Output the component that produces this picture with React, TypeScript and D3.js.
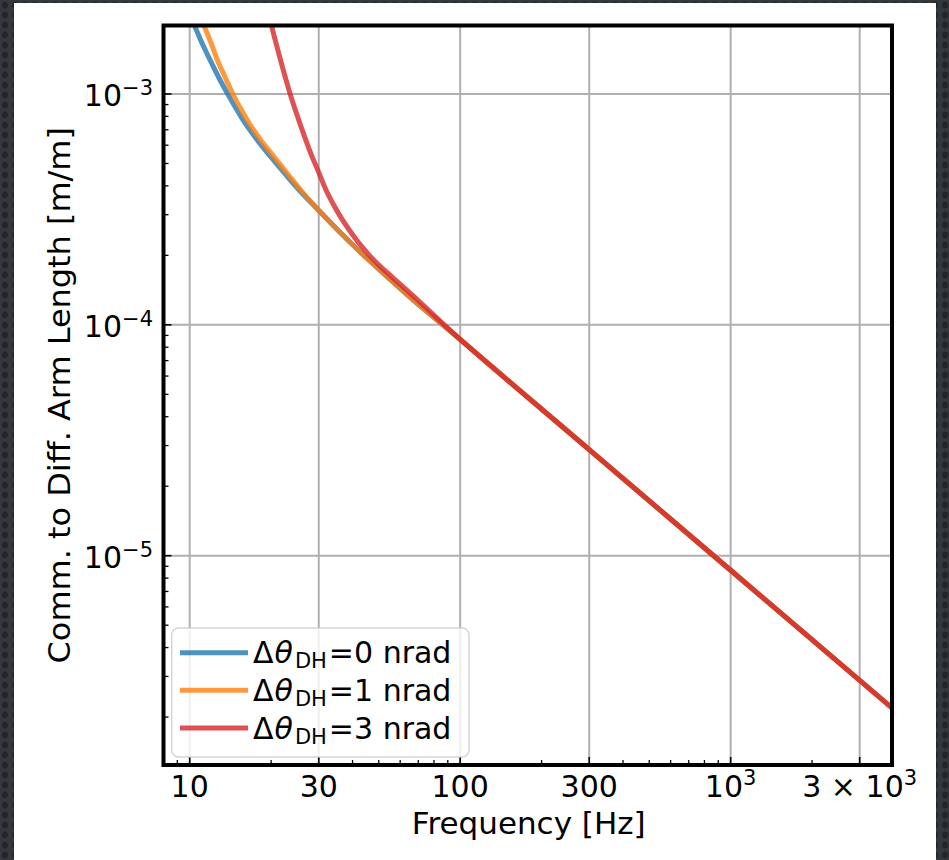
import React from "react";
import * as d3 from "d3";

// ---- data ----
const freqBlue = [10.03, 10.46, 11.1, 11.89, 12.83, 13.89, 14.96, 16.01, 17.88, 20.1, 22.7, 25.57, 30, 35.93, 46.37, 65.2, 100, 300, 1000, 3950];
const valBlue = [2.134e-3, 1.951e-3, 1.663e-3, 1.404e-3, 1.173e-3, 9.9e-4, 8.52e-4, 7.49e-4, 6.26e-4, 5.28e-4, 4.46e-4, 3.8e-4, 3.13e-4, 2.52e-4, 1.89e-4, 1.32e-4, 8.65e-5, 2.88e-5, 8.65e-6, 2.19e-6];

const freqOrange = [10.92, 11.34, 11.99, 12.65, 13.56, 14.5, 15.54, 16.61, 18.42, 20.67, 23.19, 25.9, 30.06, 35.93, 46.37, 65.2, 100, 300, 1000, 3950];
const valOrange = [2.134e-3, 1.951e-3, 1.663e-3, 1.404e-3, 1.173e-3, 9.9e-4, 8.52e-4, 7.45e-4, 6.26e-4, 5.28e-4, 4.46e-4, 3.8e-4, 3.13e-4, 2.52e-4, 1.89e-4, 1.32e-4, 8.65e-5, 2.88e-5, 8.65e-6, 2.19e-6];

const freqRed = [19.72, 20.1, 20.84, 21.66, 22.6, 23.58, 24.93, 26.46, 28.08, 30, 31.91, 34.16, 36.56, 39.14, 42.62, 46.37, 50.96, 56.57, 69.05, 100, 300, 1000, 3950];
const valRed = [2.134e-3, 1.961e-3, 1.663e-3, 1.404e-3, 1.173e-3, 9.9e-4, 8.11e-4, 6.64e-4, 5.5e-4, 4.57e-4, 3.84e-4, 3.29e-4, 2.87e-4, 2.55e-4, 2.23e-4, 1.99e-4, 1.78e-4, 1.595e-4, 1.294e-4, 8.65e-5, 2.88e-5, 8.65e-6, 2.19e-6];

const seriesNames = ["0", "1", "3"];
const seriesColors = ["#1f77b4", "#ff7f0e", "#d62728"];

const xMajorTicks = [10, 30, 100, 300, 1000, 3000];
const xMajorBase = ["10", "30", "100", "300", "10", "3 × 10"];
const xMajorSup = ["", "", "", "", "3", "3"];

const yMajorTicks = [1e-3, 1e-4, 1e-5];
const yMajorSup = ["−3", "−4", "−5"];

const xLabel = "Frequency [Hz]";
const yLabel = "Comm. to Diff. Arm Length [m/m]";

// ---- layout ----
const W = 949;
const H = 860;
const X0 = 163.5, X1 = 892, Y0 = 25.5, Y1 = 765;
const FONT = "'DejaVu Sans', sans-serif";

export default function App() {
  const x = d3.scaleLog().domain([8, 3950]).range([X0, X1]);
  const y = d3.scaleLog().domain([1.24e-6, 1.98e-3]).range([Y1, Y0]);

  const series = [
    { f: freqBlue, v: valBlue },
    { f: freqOrange, v: valOrange },
    { f: freqRed, v: valRed },
  ];

  const line = d3
    .line<[number, number]>()
    .x((d) => x(d[0]))
    .y((d) => y(d[1]))
    .curve(d3.curveCatmullRom.alpha(0.5));

  const isMajorX = (t: number) => xMajorTicks.some((m) => Math.abs(m - t) / m < 1e-6);
  const xMinor = x.ticks().filter((t) => !isMajorX(t));
  const yMinor = y
    .ticks()
    .filter((t) => Math.abs(Math.log10(t) - Math.round(Math.log10(t))) > 1e-6);

  const legendX = 171.7, legendY = 628, legendW = 297.3, legendH = 129;
  const rowY = [652.7, 690.3, 728];

  return (
    <svg
      width={W}
      height={H}
      style={{ position: "absolute", left: 0, top: 0 }}
      fontFamily={FONT}
    >
      <defs>
        <pattern id="bgpat" width="10" height="10" patternUnits="userSpaceOnUse">
          <rect width="10" height="10" fill="#34373b" />
          <ellipse cx="5" cy="5" rx="3" ry="3.6" fill="#22252a" />
        </pattern>
        <clipPath id="plotclip">
          <rect x={X0} y={Y0} width={X1 - X0} height={Y1 - Y0} />
        </clipPath>
      </defs>
      <rect x={0} y={0} width={W} height={H} fill="url(#bgpat)" />
      <rect x={14} y={3} width={922} height={H - 3} fill="#ffffff" />

      {/* grid */}
      <g stroke="#b0b0b0" strokeWidth={2}>
        {xMajorTicks.map((t) => (
          <line key={"gx" + t} x1={x(t)} x2={x(t)} y1={Y0} y2={Y1} />
        ))}
        {yMajorTicks.map((t) => (
          <line key={"gy" + t} x1={X0} x2={X1} y1={y(t)} y2={y(t)} />
        ))}
      </g>

      {/* curves */}
      <g clipPath="url(#plotclip)" fill="none" strokeWidth={5} strokeOpacity={0.8}>
        {series.map((s, i) => (
          <path
            key={i}
            d={line(s.f.map((f, j) => [f, s.v[j]] as [number, number])) || ""}
            stroke={seriesColors[i]}
            strokeLinejoin="round"
          />
        ))}
      </g>

      {/* ticks (inward) */}
      <g stroke="#000">
        {xMajorTicks.map((t) => (
          <line key={"tx" + t} x1={x(t)} x2={x(t)} y1={Y1} y2={Y1 - 8} strokeWidth={1.6} />
        ))}
        {xMinor.map((t) => (
          <line key={"mx" + t} x1={x(t)} x2={x(t)} y1={Y1} y2={Y1 - 5} strokeWidth={1.3} />
        ))}
        {yMajorTicks.map((t) => (
          <line key={"ty" + t} x1={X0} x2={X0 + 8} y1={y(t)} y2={y(t)} strokeWidth={1.6} />
        ))}
        {yMinor.map((t) => (
          <line key={"my" + t} x1={X0} x2={X0 + 5} y1={y(t)} y2={y(t)} strokeWidth={1.3} />
        ))}
      </g>

      {/* frame */}
      <rect
        x={X0}
        y={Y0}
        width={X1 - X0}
        height={Y1 - Y0}
        fill="none"
        stroke="#000"
        strokeWidth={4}
      />

      {/* x tick labels */}
      <g fontSize={30} fill="#000">
        {xMajorTicks.map((t, i) => (
          <text key={"lx" + t} x={x(t)} y={796.5} textAnchor="middle">
            {xMajorBase[i]}
            {xMajorSup[i] ? (
              <tspan fontSize={21} dy={-12}>
                {xMajorSup[i]}
              </tspan>
            ) : null}
          </text>
        ))}
      </g>

      {/* y tick labels */}
      <g fontSize={30} fill="#000">
        {yMajorTicks.map((t, i) => (
          <text key={"ly" + t} x={153} y={y(t) + 12.5} textAnchor="end">
            10
            <tspan fontSize={21} dy={-11}>
              {yMajorSup[i]}
            </tspan>
          </text>
        ))}
      </g>

      {/* axis labels */}
      <text x={(X0 + X1) / 2 + 1} y={834} textAnchor="middle" fontSize={31} fill="#000">
        {xLabel}
      </text>
      <text
        transform={`translate(70,${(Y0 + Y1) / 2}) scale(1,1.065) rotate(-90)`}
        textAnchor="middle"
        fontSize={30}
        fill="#000"
      >
        {yLabel}
      </text>

      {/* legend */}
      <rect
        x={legendX}
        y={legendY}
        width={legendW}
        height={legendH}
        rx={7}
        fill="#ffffff"
        fillOpacity={0.8}
        stroke="#cccccc"
        strokeOpacity={0.8}
        strokeWidth={1.5}
      />
      {seriesNames.map((n, i) => (
        <g key={"leg" + i}>
          <line
            x1={180}
            x2={248}
            y1={rowY[i]}
            y2={rowY[i]}
            stroke={seriesColors[i]}
            strokeOpacity={0.8}
            strokeWidth={5}
          />
          <text x={253} y={rowY[i] + 10.6} fontSize={30} fill="#000">
            Δ
            <tspan fontStyle="italic" dx={1}>θ</tspan>
            <tspan fontSize={21} dx={2} dy={5}>
              DH
            </tspan>
            <tspan dx={2} dy={-5}>={n} nrad</tspan>
          </text>
        </g>
      ))}
    </svg>
  );
}
